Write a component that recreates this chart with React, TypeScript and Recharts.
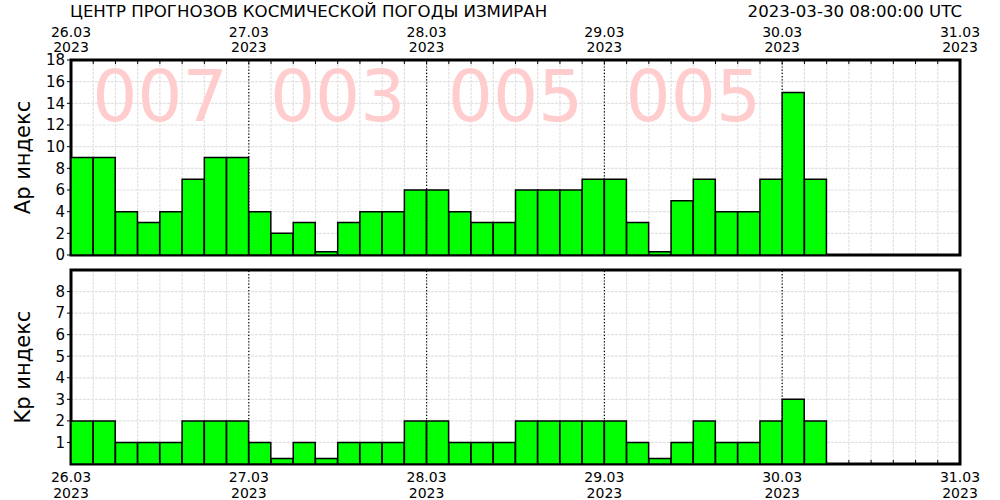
import React from 'react';
import { BarChart, Bar, XAxis, YAxis, CartesianGrid, ReferenceLine, ReferenceArea, ReferenceDot } from 'recharts';

const FONT = '"DejaVu Sans", Verdana, sans-serif';

// 3-hour slots: 8 per day, 5 days shown
const SLOTS_PER_DAY = 8;
const TOTAL_SLOTS = 40;
const dayLabels = ['26.03', '27.03', '28.03', '29.03', '30.03', '31.03'];
const yearLabel = '2023';

const apValues = [
  9, 9, 4, 3, 4, 7, 9, 9,
  4, 2, 3, 0.3, 3, 4, 4, 6,
  6, 4, 3, 3, 6, 6, 6, 7,
  7, 3, 0.3, 5, 7, 4, 4, 7,
  15, 7,
];
const kpValues = [
  2, 2, 1, 1, 1, 2, 2, 2,
  1, 0.25, 1, 0.25, 1, 1, 1, 2,
  2, 1, 1, 1, 2, 2, 2, 2,
  2, 1, 0.25, 1, 2, 1, 1, 2,
  3, 2,
];
const dailyAp = ['007', '003', '005', '005'];

const apTicks = [0, 2, 4, 6, 8, 10, 12, 14, 16, 18];
const kpTicks = [1, 2, 3, 4, 5, 6, 7, 8];
const xTicks = Array.from({ length: TOTAL_SLOTS + 1 }, (_, i) => i);
const dayLines = [8, 16, 24, 32];

const data = apValues.map((ap, i) => ({ slot: i + 0.5, ap, kp: kpValues[i] }));

const titleText = 'ЦЕНТР ПРОГНОЗОВ КОСМИЧЕСКОЙ ПОГОДЫ ИЗМИРАН';
const dateText = '2023-03-30 08:00:00 UTC';

function makeDayTick(top: boolean) {
  return (props: any) => {
    const { x, y, payload } = props;
    const v = Number(payload.value);
    const dir = top ? 1 : -1;
    const label = v % SLOTS_PER_DAY === 0 ? dayLabels[v / SLOTS_PER_DAY] : null;
    return (
      <g>
        <line x1={x} x2={x} y1={y} y2={y + dir * 4} stroke="#000" strokeWidth={1} />
        {label && (
          <text textAnchor="middle" fontSize={14} fontFamily={FONT} fill="#000">
            <tspan x={x} y={top ? y - 23.5 : y + 18}>{label}</tspan>
            <tspan x={x} y={top ? y - 8 : y + 33.5}>{yearLabel}</tspan>
          </text>
        )}
      </g>
    );
  };
}

const TopTick = makeDayTick(true);
const BottomTick = makeDayTick(false);

const yTickStyle = { fontSize: 15, fontFamily: FONT, fill: '#000' };
const gridProps = { stroke: '#e2e2e2', strokeWidth: 1.2, strokeDasharray: '3 1' };

export default function App() {
  return (
    <div style={{ position: 'absolute', left: 0, top: 0, width: 1000, height: 500, background: '#fff', fontFamily: FONT }}>
      <div style={{ position: 'absolute', left: 0, top: 0 }}>
        <BarChart width={1000} height={266} data={data} margin={{ top: 0, right: 40, bottom: 11, left: 0 }} barCategoryGap={0} barGap={0}>
          <CartesianGrid {...gridProps} />
          <XAxis
            dataKey="slot"
            type="number"
            orientation="top"
            domain={[0, TOTAL_SLOTS]}
            ticks={xTicks}
            interval={0}
            height={60}
            tickSize={0}
            tickMargin={0}
            axisLine={false}
            tickLine={false}
            tick={TopTick}
          />
          <YAxis
            type="number"
            domain={[0, 18]}
            ticks={apTicks}
            interval={0}
            width={71}
            tickSize={4}
            tickMargin={2}
            axisLine={false}
            tickLine={{ stroke: '#000' }}
            tick={yTickStyle}
          />
          {dailyAp.map((t, d) => (
            <ReferenceDot
              key={t + d}
              x={d * SLOTS_PER_DAY + SLOTS_PER_DAY / 2}
              y={14.7}
              r={0}
              fill="none"
              stroke="none"
              label={{ value: t, position: 'center', fill: '#ffcdcd', fontSize: 71, fontFamily: FONT }}
            />
          ))}
          {dayLines.map((d) => (
            <ReferenceLine key={d} x={d} stroke="#000" strokeDasharray="1.2 2" strokeWidth={1.2} />
          ))}
          <Bar dataKey="ap" fill="#00ff00" stroke="#000" strokeWidth={1.5} isAnimationActive={false} />
          <ReferenceArea x1={0} x2={TOTAL_SLOTS} y1={0} y2={18} fill="none" fillOpacity={0} stroke="#000" strokeWidth={3} />
        </BarChart>
      </div>
      <div style={{ position: 'absolute', left: 0, top: 262 }}>
        <BarChart width={1000} height={238} data={data} margin={{ top: 8, right: 40, bottom: 0, left: 0 }} barCategoryGap={0} barGap={0}>
          <CartesianGrid {...gridProps} />
          <XAxis
            dataKey="slot"
            type="number"
            orientation="bottom"
            domain={[0, TOTAL_SLOTS]}
            ticks={xTicks}
            interval={0}
            height={36}
            tickSize={0}
            tickMargin={0}
            axisLine={false}
            tickLine={false}
            tick={BottomTick}
          />
          <YAxis
            type="number"
            domain={[0, 9]}
            ticks={kpTicks}
            interval={0}
            width={71}
            tickSize={4}
            tickMargin={2}
            axisLine={false}
            tickLine={{ stroke: '#000' }}
            tick={yTickStyle}
          />
          {dayLines.map((d) => (
            <ReferenceLine key={d} x={d} stroke="#000" strokeDasharray="1.2 2" strokeWidth={1.2} />
          ))}
          <Bar dataKey="kp" fill="#00ff00" stroke="#000" strokeWidth={1.5} isAnimationActive={false} />
          <ReferenceArea x1={0} x2={TOTAL_SLOTS} y1={0} y2={9} fill="none" fillOpacity={0} stroke="#000" strokeWidth={3} />
        </BarChart>
      </div>
      <svg width={1000} height={500} style={{ position: 'absolute', left: 0, top: 0, pointerEvents: 'none' }}>
        <text x={70} y={17} fontSize={16.6} fontFamily={FONT} fill="#000">{titleText}</text>
        <text x={962} y={17} fontSize={16.6} fontFamily={FONT} fill="#000" textAnchor="end">{dateText}</text>
        <text transform="translate(30,157.5) rotate(-90)" fontSize={21} fontFamily={FONT} fill="#000" textAnchor="middle">Ap индекс</text>
        <text transform="translate(30,367) rotate(-90)" fontSize={21} fontFamily={FONT} fill="#000" textAnchor="middle">Kp индекс</text>
      </svg>
    </div>
  );
}
